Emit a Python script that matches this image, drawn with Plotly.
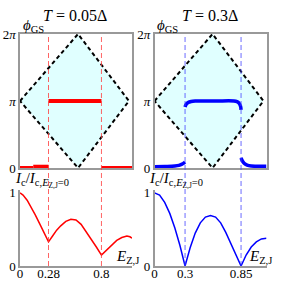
import numpy as np
import plotly.graph_objects as go

PI = np.pi

# ---------------- data ----------------
# phase-boundary (dashed diamond) in (E_ZJ, phi) plane
boundary_E = [0.0, 0.57, 1.07, 0.57, 0.0]
boundary_phi = [PI, 2 * PI, PI, 0.0, PI]

# ground-state phase, T = 0.05 Delta (red)
red_seg1_E = [0.0, 0.13]
red_seg1_phi = [0.0, 0.0]
red_seg2_E = [0.13, 0.28]
red_seg2_phi = [0.06, 0.06]
red_seg3_E = [0.28, 0.80]
red_seg3_phi = [PI, PI]
red_seg4_E = [0.80, 1.10]
red_seg4_phi = [0.0, 0.0]

# ground-state phase, T = 0.3 Delta (blue)
blue_seg1_E = [0.0, 0.10, 0.20, 0.24, 0.27, 0.29, 0.30]
blue_seg1_phi = [0.06, 0.07, 0.09, 0.12, 0.18, 0.24, 0.28]
blue_seg2_E = [0.30, 0.31, 0.33, 0.36, 0.40, 0.60, 0.78, 0.81, 0.83, 0.845, 0.85]
blue_seg2_phi = [PI - 0.28, PI - 0.16, PI - 0.07, PI - 0.02, PI, PI, PI, PI - 0.03, PI - 0.1, PI - 0.25, PI - 0.42]
blue_seg3_E = [0.85, 0.86, 0.88, 0.91, 0.95, 1.00, 1.10]
blue_seg3_phi = [0.47, 0.36, 0.22, 0.13, 0.09, 0.08, 0.08]

# critical current, T = 0.05 Delta
Ic_red_E = [0.0, 0.03, 0.07, 0.10, 0.15, 0.20, 0.25, 0.28, 0.32, 0.36, 0.40, 0.45,
            0.50, 0.55, 0.60, 0.65, 0.70, 0.75, 0.80, 0.85, 0.90, 0.95, 1.00, 1.05, 1.08, 1.10]
Ic_red = [1.0, 0.97, 0.90, 0.83, 0.70, 0.56, 0.42, 0.33, 0.41, 0.49, 0.55, 0.61,
          0.64, 0.63, 0.57, 0.47, 0.37, 0.26, 0.15, 0.22, 0.29, 0.35, 0.39, 0.41, 0.40, 0.38]

# critical current, T = 0.3 Delta
Ic_blue_E = [0.0, 0.05, 0.10, 0.15, 0.20, 0.25, 0.30, 0.35, 0.40, 0.45, 0.50, 0.55,
             0.60, 0.65, 0.70, 0.75, 0.80, 0.85, 0.90, 0.95, 1.00, 1.05, 1.10]
Ic_blue = [1.0, 0.97, 0.87, 0.72, 0.52, 0.28, 0.0, 0.25, 0.45, 0.59, 0.67, 0.69,
           0.67, 0.59, 0.46, 0.30, 0.14, 0.0, 0.15, 0.26, 0.33, 0.37, 0.38]

red_marks = [0.28, 0.8]
blue_marks = [0.3, 0.85]

top_ticks = [0, PI, 2 * PI]
top_ticktext = ["0", "<i>π</i>", "2<i>π</i>"]

FONT = "Liberation Serif"
W, H = 281, 285

fig = go.Figure()

def px_x(p):
    return p / W

def px_y(p):
    return (H - p) / H

# panel domains (pixels)
xL = [px_x(20), px_x(132)]
xR = [px_x(154.5), px_x(266.5)]
yT = [px_y(168), px_y(34)]
yB = [px_y(266), px_y(190)]

# ---- top-left
fig.add_trace(go.Scatter(x=boundary_E, y=boundary_phi, mode="lines", fill="toself",
                         fillcolor="#e0ffff", line=dict(color="black", width=2, dash="4px,3px"),
                         xaxis="x", yaxis="y", hoverinfo="skip"))
for ex, ph in [(red_seg1_E, red_seg1_phi), (red_seg2_E, red_seg2_phi),
               (red_seg3_E, red_seg3_phi), (red_seg4_E, red_seg4_phi)]:
    fig.add_trace(go.Scatter(x=ex, y=ph, mode="lines", line=dict(color="#ff0000", width=4),
                             xaxis="x", yaxis="y"))
# ---- top-right
fig.add_trace(go.Scatter(x=boundary_E, y=boundary_phi, mode="lines", fill="toself",
                         fillcolor="#e0ffff", line=dict(color="black", width=2, dash="4px,3px"),
                         xaxis="x2", yaxis="y2", hoverinfo="skip"))
for ex, ph in [(blue_seg1_E, blue_seg1_phi), (blue_seg2_E, blue_seg2_phi), (blue_seg3_E, blue_seg3_phi)]:
    fig.add_trace(go.Scatter(x=ex, y=ph, mode="lines", line=dict(color="#0000ff", width=3.5, shape="spline"),
                             xaxis="x2", yaxis="y2"))
# ---- bottom
fig.add_trace(go.Scatter(x=Ic_red_E, y=Ic_red, mode="lines", line=dict(color="#ff0000", width=1.5),
                         xaxis="x3", yaxis="y3"))
fig.add_trace(go.Scatter(x=Ic_blue_E, y=Ic_blue, mode="lines", line=dict(color="#0000ff", width=1.5),
                         xaxis="x4", yaxis="y4"))

shapes = []
for m in red_marks:
    shapes.append(dict(type="line", xref="x", yref="paper", x0=m, x1=m, y0=yB[0], y1=yT[1],
                       line=dict(color="rgba(255,60,60,0.8)", width=1, dash="5px,3px"), layer="above"))
for m in blue_marks:
    shapes.append(dict(type="line", xref="x2", yref="paper", x0=m, x1=m, y0=yB[0], y1=yT[1],
                       line=dict(color="rgba(70,70,255,0.8)", width=1, dash="5px,3px"), layer="above"))

axis_line = dict(showline=True, linecolor="#999999", linewidth=1.5, showgrid=False, zeroline=False,
                 ticks="", automargin=False, tickfont=dict(family=FONT, size=13, color="black"))

fig.update_layout(
    width=W, height=H, margin=dict(l=0, r=0, t=0, b=0, autoexpand=False),
    paper_bgcolor="white", plot_bgcolor="white", showlegend=False,
    font=dict(family=FONT, color="black"),
    xaxis=dict(domain=xL, range=[0, 1.1], anchor="y", showticklabels=False, mirror=True, **axis_line),
    yaxis=dict(domain=yT, range=[0, 2 * PI], anchor="x", tickvals=top_ticks, ticktext=top_ticktext,
               mirror=True, **axis_line),
    xaxis2=dict(domain=xR, range=[0, 1.1], anchor="y2", showticklabels=False, mirror=True, **axis_line),
    yaxis2=dict(domain=yT, range=[0, 2 * PI], anchor="x2", tickvals=top_ticks, ticktext=top_ticktext,
                mirror=True, **axis_line),
    xaxis3=dict(domain=xL, range=[0, 1.1], anchor="y3", tickvals=[0] + red_marks,
                ticktext=["0", "0.28", "0.8"], ticklabelstandoff=-5, **axis_line),
    yaxis3=dict(domain=yB, range=[0, 1.04], anchor="x3", tickvals=[0, 1], ticktext=["0", "1"], **axis_line),
    xaxis4=dict(domain=xR, range=[0, 1.1], anchor="y4", tickvals=[0] + blue_marks,
                ticktext=["0", "0.3", "0.85"], ticklabelstandoff=-5, **axis_line),
    yaxis4=dict(domain=yB, range=[0, 1.04], anchor="x4", tickvals=[0, 1], ticktext=["0", "1"], **axis_line),
    shapes=shapes,
)

ann = []
def A(text, x, y, size=13, xanchor="center", yanchor="middle"):
    ann.append(dict(text=text, x=px_x(x), y=px_y(y), xref="paper", yref="paper", showarrow=False,
                    xanchor=xanchor, yanchor=yanchor, font=dict(family=FONT, size=size, color="black")))

A("<i>T</i> = 0.05Δ", 75, 16, size=16)
A("<i>T</i> = 0.3Δ", 210, 16, size=16)
A("<i>ϕ</i><sub>GS</sub>", 21, 26, size=15, xanchor="left")
A("<i>ϕ</i><sub>GS</sub>", 155, 26, size=15, xanchor="left")
ylab = "<i>I</i><sub>c</sub>/<i>I</i><sub>c,<i>E</i><sub>Z,J</sub>=0</sub>"
A(ylab, 13, 180, size=15, xanchor="left")
A(ylab, 147, 180, size=15, xanchor="left")
A("<i>E</i><sub>Z,J</sub>", 114, 257, size=15, xanchor="left")
A("<i>E</i><sub>Z,J</sub>", 247, 257, size=15, xanchor="left")
fig.update_layout(annotations=ann)

fig.write_html("out.html", config={"displayModeBar": False},
               post_script="document.body.style.margin='0';document.body.style.overflow='hidden';")
